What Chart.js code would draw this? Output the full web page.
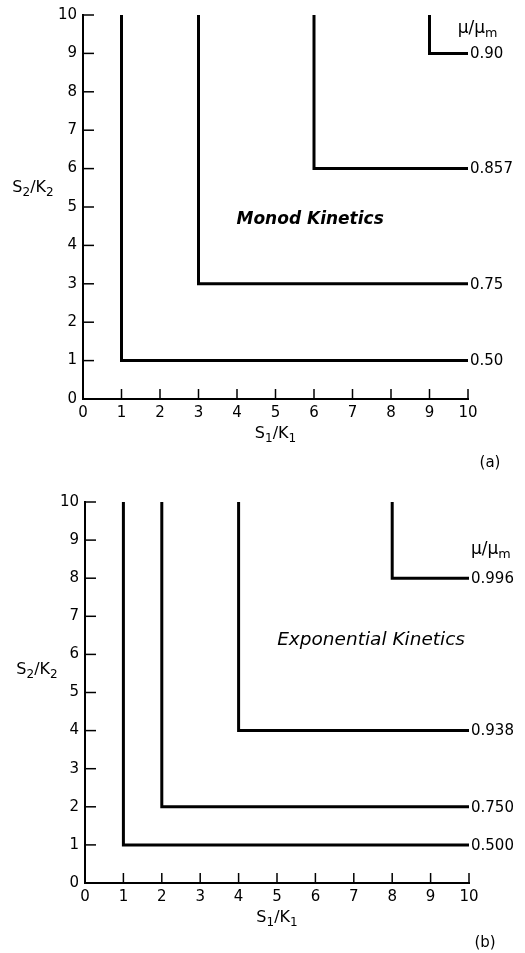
<!DOCTYPE html>
<html>
<head>
<meta charset="utf-8">
<script src="https://cdn.jsdelivr.net/npm/chart.js@4.4.1/dist/chart.umd.min.js"></script>
<style>
  body { margin: 0; background: #fff; }
  canvas { position: absolute; left: 0; }
  #chartA { top: 0; }
  #chartB { top: 475px; }
</style>
</head>
<body>
<canvas id="chartA" width="525" height="475"></canvas>
<canvas id="chartB" width="525" height="478"></canvas>
<script>
// ================= DATA =================
const axisTicks = [0, 1, 2, 3, 4, 5, 6, 7, 8, 9, 10];

// (a) Monod kinetics: corner of each L-shaped contour
const monodCornerX = [1, 3, 6, 9];
const monodCornerY = [1, 3, 6, 9];
const monodLabels = ["0.50", "0.75", "0.857", "0.90"];

// (b) Exponential kinetics
const expCornerX = [1, 2, 4, 8];
const expCornerY = [1, 2, 4, 8];
const expLabels = ["0.500", "0.750", "0.938", "0.996"];

const FONT = '"DejaVu Sans", sans-serif';

// ================= HELPERS =================
function buildDatasets(cx, cy, labels) {
  return cx.map((x, i) => ({
    label: labels[i],
    data: [{ x: x, y: 10 }, { x: x, y: cy[i] }, { x: 10, y: cy[i] }],
    showLine: true,
    borderColor: "#000",
    borderWidth: 3,
    borderJoinStyle: "miter",
    pointRadius: 0,
    clip: 6
  }));
}

// text with subscripts, parts = [[text, isSub], ...]
function drawSub(ctx, parts, x, y, size) {
  ctx.save();
  ctx.textBaseline = "middle";
  ctx.textAlign = "left";
  let w = 0;
  parts.forEach(p => {
    ctx.font = (p[1] ? size * 0.75 : size) + "px " + FONT;
    w += ctx.measureText(p[0]).width;
  });
  let cur = x - w / 2;
  parts.forEach(p => {
    ctx.font = (p[1] ? size * 0.75 : size) + "px " + FONT;
    ctx.fillText(p[0], cur, p[1] ? y + size * 0.3 : y);
    cur += ctx.measureText(p[0]).width;
  });
  ctx.restore();
}

// ================= PLUGIN : INWARD TICKS + TEXT =================
const decorPlugin = {
  id: "decor",
  afterDraw(chart, args, opts) {
    const ctx = chart.ctx;
    const xs = chart.scales.x;
    const ys = chart.scales.y;
    const area = chart.chartArea;

    // inward tick marks
    ctx.save();
    ctx.strokeStyle = "#000";
    ctx.lineWidth = 1.5;
    axisTicks.forEach(v => {
      if (v === 0) return;
      const py = ys.getPixelForValue(v);
      ctx.beginPath();
      ctx.moveTo(area.left, py);
      ctx.lineTo(area.left + 11, py);
      ctx.stroke();
      const px = xs.getPixelForValue(v);
      ctx.beginPath();
      ctx.moveTo(px, area.bottom);
      ctx.lineTo(px, area.bottom - 10);
      ctx.stroke();
    });
    ctx.restore();

    // value labels at line ends
    ctx.save();
    ctx.fillStyle = "#000";
    ctx.font = "15px " + FONT;
    ctx.textBaseline = "middle";
    ctx.textAlign = "left";
    chart.data.datasets.forEach((ds, i) => {
      const pts = chart.getDatasetMeta(i).data;
      const last = pts[pts.length - 1];
      ctx.fillText(ds.label, last.x + 2, last.y + 1);
    });
    ctx.restore();

    // header mu/mu_m
    ctx.save();
    ctx.fillStyle = "#000";
    drawSub(ctx, [["\u03BC/\u03BC", false], ["m", true]],
      xs.getPixelForValue(opts.headerX), ys.getPixelForValue(opts.headerY), 17);

    // kinetics title
    ctx.font = opts.titleFont;
    ctx.textAlign = "center";
    ctx.textBaseline = "middle";
    ctx.fillText(opts.title, xs.getPixelForValue(opts.titleX), ys.getPixelForValue(opts.titleY));

    // axis titles
    drawSub(ctx, [["S", false], ["2", true], ["/K", false], ["2", true]],
      opts.yTitleX, ys.getPixelForValue(opts.yTitleY), 16);
    drawSub(ctx, [["S", false], ["1", true], ["/K", false], ["1", true]],
      xs.getPixelForValue(5.0), area.bottom + 35, 16);

    // panel tag
    ctx.font = "15px " + FONT;
    ctx.textAlign = "center";
    ctx.fillText(opts.tag, opts.tagX, chart.height - opts.tagBottom);
    ctx.restore();
  }
};

function makeOptions(yWidth, xHeight, padTop, padRight, decor) {
  return {
    responsive: false,
    animation: false,
    devicePixelRatio: 1,
    layout: { padding: { top: padTop, right: padRight, left: 0, bottom: 0 } },
    plugins: {
      legend: { display: false },
      tooltip: { enabled: false },
      decor: decor
    },
    scales: {
      x: {
        type: "linear",
        min: 0,
        max: 10,
        afterFit: s => { s.height = xHeight; },
        afterBuildTicks: s => { s.ticks = axisTicks.map(v => ({ value: v })); },
        border: { display: true, color: "#000", width: 2 },
        grid: { display: true, drawOnChartArea: false, drawTicks: false },
        ticks: { color: "#000", padding: 5, maxRotation: 0, font: { family: FONT, size: 15 } }
      },
      y: {
        type: "linear",
        min: 0,
        max: 10,
        afterFit: s => { s.width = yWidth; },
        afterBuildTicks: s => { s.ticks = axisTicks.map(v => ({ value: v })); },
        border: { display: true, color: "#000", width: 2 },
        grid: { display: true, drawOnChartArea: false, drawTicks: false },
        ticks: { color: "#000", padding: 6, font: { family: FONT, size: 15 } }
      }
    }
  };
}

// ================= CHART : MONOD =================
new Chart(document.getElementById("chartA"), {
  type: "scatter",
  data: { datasets: buildDatasets(monodCornerX, monodCornerY, monodLabels) },
  options: makeOptions(83, 76, 12, 57, {
    headerX: 10.25, headerY: 9.65,
    title: "Monod Kinetics", titleFont: "bold italic 17px " + FONT,
    titleX: 5.9, titleY: 4.68,
    yTitleX: 33, yTitleY: 5.5,
    tag: "(a)", tagX: 490, tagBottom: 12
  }),
  plugins: [decorPlugin]
});

// ================= CHART : EXPONENTIAL =================
new Chart(document.getElementById("chartB"), {
  type: "scatter",
  data: { datasets: buildDatasets(expCornerX, expCornerY, expLabels) },
  options: makeOptions(85, 70, 27, 56, {
    headerX: 10.57, headerY: 8.74,
    title: "Exponential Kinetics", titleFont: "italic 18.5px " + FONT,
    titleX: 7.45, titleY: 6.37,
    yTitleX: 37, yTitleY: 5.6,
    tag: "(b)", tagX: 485, tagBottom: 10
  }),
  plugins: [decorPlugin]
});
</script>
</body>
</html>
